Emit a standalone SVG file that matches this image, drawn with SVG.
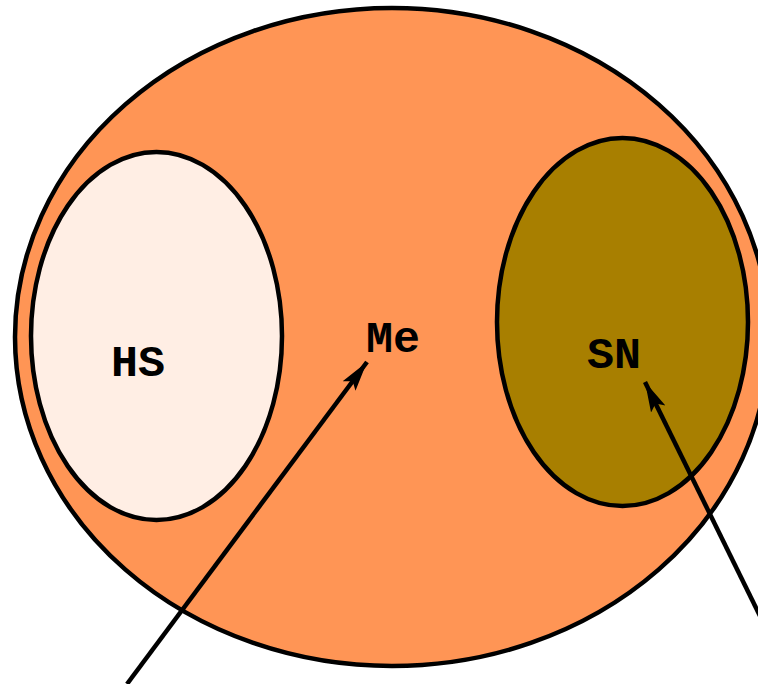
<svg xmlns="http://www.w3.org/2000/svg" width="758" height="684" viewBox="0 0 758 684">
<defs>
<style>
.e{stroke:#000;stroke-width:4.5}
.t{font-family:"Liberation Mono","Courier New",monospace;font-weight:bold;font-size:45px;fill:#000;text-anchor:middle}
.c{stroke:#000;stroke-width:4.5;fill:none}
</style>
<marker id="ah" markerUnits="userSpaceOnUse" markerWidth="32" markerHeight="20" refX="30" refY="8" orient="auto" viewBox="0 0 32 16">
<path d="M0,0 L30,8 L0,16 L6,8 Z" fill="#000"/>
</marker>
</defs>
<g id="Me-node">
<ellipse class="e" cx="392" cy="337" rx="377" ry="329" fill="#FF9555"/>
<text class="t" x="393" y="352">Me</text>
</g>
<g id="HS-node">
<ellipse class="e" cx="156.5" cy="336" rx="125.5" ry="184" fill="#FFEEE4"/>
<text class="t" x="138" y="376">HS</text>
</g>
<g id="SN-node">
<ellipse class="e" cx="622.5" cy="322" rx="125.5" ry="184" fill="#A87F00"/>
<text class="t" x="614" y="368">SN</text>
</g>
<g id="connectors">
<line class="c" x1="127" y1="684" x2="367" y2="362" marker-end="url(#ah)"/>
<line class="c" x1="763" y1="622" x2="645" y2="382" marker-end="url(#ah)"/>
</g>
</svg>
